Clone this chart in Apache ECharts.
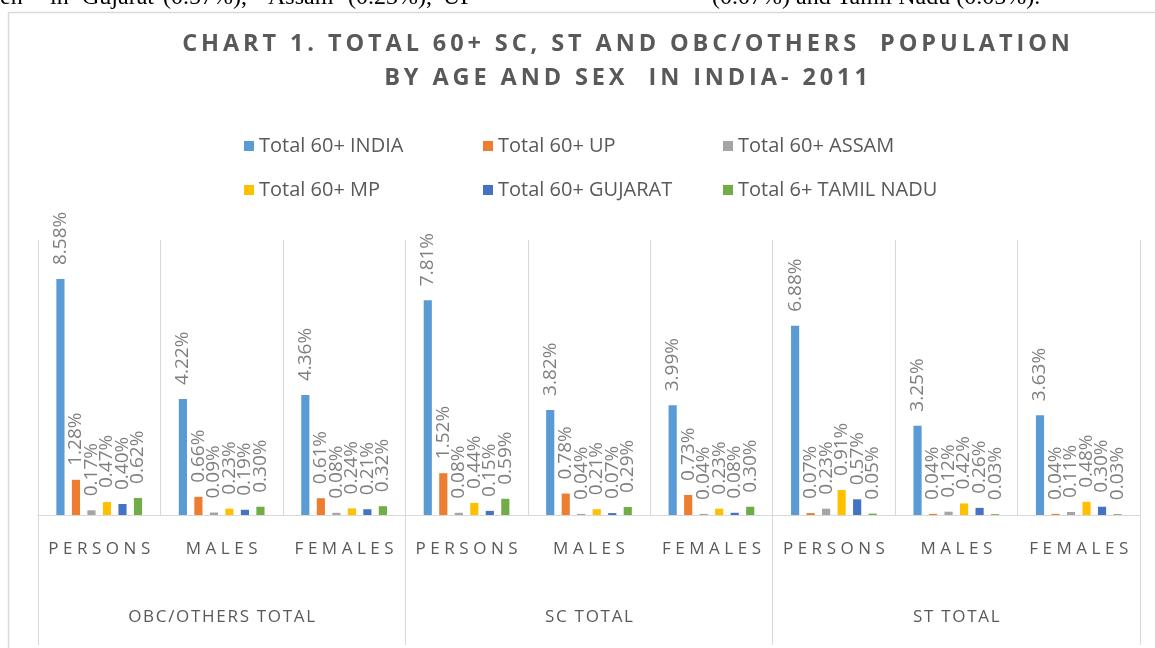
<!DOCTYPE html>
<html>
<head>
<meta charset="utf-8">
<script src="https://cdn.jsdelivr.net/npm/echarts@6/dist/echarts.min.js"></script>
<style>
  html, body { margin: 0; padding: 0; background: #fff; }
  #chart { width: 1155px; height: 648px; }
</style>
</head>
<body>
<div id="chart"></div>
<script>
// categories (two levels)
const subCategories = ['PERSONS', 'MALES', 'FEMALES', 'PERSONS', 'MALES', 'FEMALES', 'PERSONS', 'MALES', 'FEMALES']
const groupCategories = ['OBC/OTHERS TOTAL', 'SC TOTAL', 'ST TOTAL']

// series values, in %
const seriesNames = ['Total 60+ INDIA', 'Total 60+ UP', 'Total 60+ ASSAM', 'Total 60+ MP', 'Total 60+ GUJARAT', 'Total 6+ TAMIL NADU']
const india = [8.58, 4.22, 4.36, 7.81, 3.82, 3.99, 6.88, 3.25, 3.63]
const up = [1.28, 0.66, 0.61, 1.52, 0.78, 0.73, 0.07, 0.04, 0.04]
const assam = [0.17, 0.09, 0.08, 0.08, 0.04, 0.04, 0.23, 0.12, 0.11]
const mp = [0.47, 0.23, 0.24, 0.44, 0.21, 0.23, 0.91, 0.42, 0.48]
const gujarat = [0.40, 0.19, 0.21, 0.15, 0.07, 0.08, 0.57, 0.26, 0.30]
const tamilNadu = [0.62, 0.30, 0.32, 0.59, 0.29, 0.30, 0.05, 0.03, 0.03]

const seriesValues = [india, up, assam, mp, gujarat, tamilNadu]
const colors = ['#5B9BD5', '#ED7D31', '#A5A5A5', '#FFC000', '#4472C4', '#70AD47']

const GREY = '#595959'
const LINE = '#d9d9d9'
const FONT = 'Open Sans'

// letter spacing is not supported, so pad the letters with thin/hair spaces
const spaced = (s, sep) => s.split('').join(sep || '\u200A')

// the cut-off line of the page above the chart
const pageText = [
  ['en', 0], ['in', 50], ['Gujarat', 82], ['(0.57%),', 163], ['Assam', 268],
  ['(0.23%),', 348], ['UP', 443], ['(0.07%) and Tamil Nadu (0.05%).', 712]
]

const chart = echarts.init(document.getElementById('chart'))

// legend: 3 columns x 2 rows
const legendX = [244, 483, 723]
const legendY = [136, 180]

let option = {
  animation: false,
  color: colors,
  grid: { left: 38, right: 15, top: 240, bottom: 133, containLabel: false },
  legend: seriesNames.map((n, i) => ({
    data: [n],
    left: legendX[i % 3],
    top: legendY[Math.floor(i / 3)],
    padding: 0,
    icon: 'rect',
    itemWidth: 10,
    itemHeight: 10,
    selectedMode: false,
    textStyle: { fontFamily: FONT, fontSize: 20, color: GREY }
  })),
  xAxis: [
    {
      type: 'category',
      data: subCategories,
      axisLine: { lineStyle: { color: LINE, width: 1 } },
      axisTick: { show: false },
      splitLine: { show: true, interval: 0, lineStyle: { color: LINE, width: 1 } },
      axisLabel: {
        interval: 0,
        margin: 26,
        fontFamily: FONT,
        fontSize: 17,
        color: GREY,
        formatter: v => spaced(v, '\u2009\u200A')
      }
    },
    {
      type: 'category',
      data: groupCategories,
      position: 'bottom',
      axisLine: { show: false },
      axisTick: { show: true, interval: 0, length: 130, lineStyle: { color: LINE, width: 1 } },
      axisLabel: {
        interval: 0,
        margin: 94,
        fontFamily: FONT,
        fontSize: 17,
        color: GREY,
        formatter: v => spaced(v)
      }
    }
  ],
  yAxis: {
    type: 'value',
    min: 0,
    max: 10,
    show: false,
    splitLine: { show: false }
  },
  series: seriesNames.map((n, i) => ({
    name: n,
    type: 'bar',
    xAxisIndex: 0,
    data: seriesValues[i],
    barGap: '90%',
    barCategoryGap: '30%',
    itemStyle: { color: colors[i] },
    label: {
      show: true,
      position: 'top',
      rotate: 90,
      align: 'left',
      verticalAlign: 'middle',
      distance: 14,
      fontFamily: FONT,
      fontSize: 19,
      color: '#7f7f7f',
      formatter: p => p.value.toFixed(2) + '%'
    }
  })),
  graphic: [
    // chart frame
    { type: 'rect', shape: { x: 8.5, y: 12.5, width: 1160, height: 660 }, style: { fill: null, stroke: LINE, lineWidth: 1.5 }, silent: true },
    // title
    { type: 'text', x: 626, y: 44, style: { text: spaced('CHART 1. TOTAL 60+ SC, ST AND OBC/OTHERS  POPULATION', '\u2009'), align: 'center', verticalAlign: 'middle', fontFamily: FONT, fontWeight: 'bold', fontSize: 23.5, fill: GREY } },
    { type: 'text', x: 626, y: 78, style: { text: spaced('BY AGE AND SEX  IN INDIA- 2011', '\u2009'), align: 'center', verticalAlign: 'middle', fontFamily: FONT, fontWeight: 'bold', fontSize: 23.5, fill: GREY } }
  ].concat(pageText.map(t => ({
    type: 'text', x: t[1], y: 10,
    style: { text: t[0], verticalAlign: 'bottom', fontFamily: 'Liberation Serif', fontSize: 24, fill: '#000' }
  })))
}

chart.setOption(option)
</script>
</body>
</html>
